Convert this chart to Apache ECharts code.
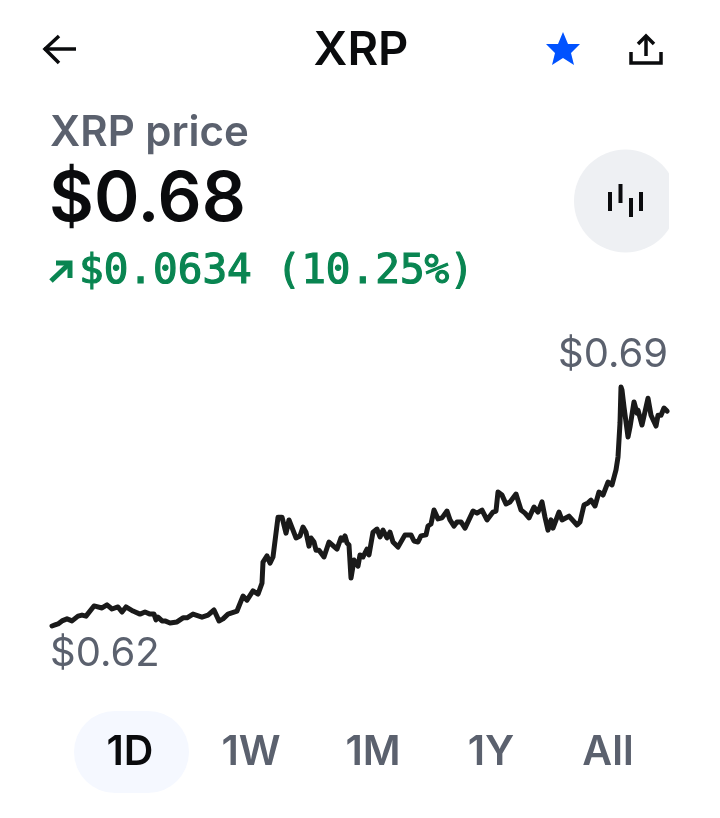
<!DOCTYPE html>
<html>
<head>
<meta charset="utf-8">
<style>
html,body{margin:0;padding:0;background:#fff;}
#chart{width:720px;height:818px;}
</style>
<script src="https://cdn.jsdelivr.net/npm/echarts@6/dist/echarts.min.js"></script>
</head>
<body>
<div id="chart"></div>
<script>
// sample position along the day
var ticks=[1,4,7,9,11,16,21,27,31,35,43,51,56,61,67,71,75,82,89,94,99,103,105,107,111,114,119,126,132,136,142,151,157,163,168,172,177,186,192,196,202,207,211,212,216,219,222,224,227,231,235,238,245,249,252,255,258,260,263,265,268,273,278,286,290,292,294,296,298,300,303,307,309,312,316,318,322,326,329,332,336,339,342,347,354,360,363,367,370,375,377,380,383,387,391,396,399,403,406,410,414,422,426,431,436,442,445,447,451,455,459,465,470,474,478,483,487,491,494,497,500,502,508,511,518,526,529,533,537,540,544,548,552,557,561,565,567,569,570,571,573,577,579,583,586,587,591,597,600,605,607,610,613,616];
var prices=[.6200,.6203,.6206,.6206,.6215,.6221,.6215,.6229,.6232,.6229,.6259,.6253,.6262,.6250,.6256,.6241,.6256,.6244,.6235,.6241,.6235,.6235,.6218,.6226,.6215,.6215,.6209,.6212,.6224,.6224,.6235,.6226,.6232,.6247,.6215,.6221,.6235,.6244,.6288,.6276,.6303,.6294,.6326,.6388,.6406,.6385,.6403,.6403,.6520,.6520,.6473,.6512,.6459,.6465,.6491,.6476,.6435,.6459,.6447,.6423,.6423,.6403,.6447,.6426,.6459,.6453,.6465,.6444,.6438,.6341,.6394,.6376,.6409,.6403,.6426,.6409,.6476,.6485,.6462,.6482,.6459,.6476,.6447,.6432,.6468,.6468,.6450,.6447,.6465,.6468,.6494,.6500,.6541,.6515,.6518,.6538,.6512,.6494,.6506,.6506,.6488,.6538,.6532,.6541,.6512,.6535,.6538,.6594,.6585,.6559,.6565,.6588,.6541,.6532,.6518,.6550,.6535,.6565,.6520,.6482,.6512,.6488,.6535,.6512,.6523,.6497,.6506,.6556,.6562,.6570,.6553,.6594,.6585,.6623,.6615,.6659,.6697,.6797,.6903,.6894,.6844,.6756,.6785,.6859,.6826,.6835,.6791,.6870,.6820,.6788,.6820,.6820,.6841,.6832];
var tabs=['1D','1W','1M','1Y','All'];
var tabX=[130,251,373,491,608];

var grey='#5b616e',ink='#0a0b0d',green='#098551',blue='#0052ff';
var myChart=echarts.init(document.getElementById('chart'),null,{renderer:'canvas'});

function txt(x,y,s,size,weight,color,align,family){
    return {type:'text',x:x,y:y,silent:true,style:{
        text:s,fontSize:size,fontWeight:weight,fill:color,
        fontFamily:family||'Inter',align:align||'left',verticalAlign:'middle'
    }};
}
function stroke(points,color,w){
    return {type:'polyline',silent:true,shape:{points:points},
        style:{stroke:color,lineWidth:w,fill:null,lineCap:'butt',lineJoin:'miter'}};
}

var changeLabel=txt(79,272,'$0.0634 (10.25%)',41,500,green,'left','DejaVu Sans Mono');
changeLabel.style.stroke=green;
changeLabel.style.lineWidth=1.2;

var elements=[
    stroke([[76,49],[44,49]],ink,3.5),
    stroke([[59,36],[45,49],[59,63]],ink,3.5),
    txt(361,51,'XRP',47,600,ink,'center'),
    {type:'polygon',silent:true,shape:{points:[[563,32],[568,44],[580,44],[571,53],[574,65],[563,58],[552,65],[555,53],[546,44],[558,44]]},style:{fill:blue}},
    stroke([[646,56],[646,37]],ink,3.5),
    stroke([[638,44],[646,36],[654,44]],ink,3.5),
    stroke([[631,52],[631,63],[661,63],[661,52]],ink,3.5),
    txt(50,133,'XRP price',42,600,grey),
    txt(49,200,'$0.68',69,600,ink),
    stroke([[51,281],[70,263]],green,5),
    stroke([[56,263],[70,263],[70,278]],green,5),
    changeLabel,
    {type:'circle',silent:true,shape:{cx:625.5,cy:201,r:51.5},style:{fill:'#eef0f3'}},
    {type:'rect',silent:true,shape:{x:669,y:145,width:12,height:112},style:{fill:'#fff'}},
    stroke([[610,192],[610,211]],ink,4),
    stroke([[620.5,184],[620.5,203]],ink,4),
    stroke([[631,198],[631,217]],ink,4),
    stroke([[641,192],[641,211]],ink,4),
    txt(668,355,'$0.69',40,400,grey,'right'),
    txt(50,654,'$0.62',40,400,grey),
    {type:'rect',silent:true,shape:{x:74,y:711,width:115,height:82,r:41},style:{fill:'#f5f8ff'}}
];
tabs.forEach(function(t,i){
    elements.push(txt(tabX[i],753,t,41,600,i===0?ink:grey,'center'));
});

myChart.setOption({
    animation:false,
    backgroundColor:'#fff',
    grid:{left:51,top:388,width:616,height:238},
    xAxis:{type:'value',min:0,max:616,show:false},
    yAxis:{type:'value',min:0.62,max:0.69,show:false},
    graphic:{elements:elements},
    series:[{
        type:'line',
        data:ticks.map(function(t,i){return [t,prices[i]];}),
        showSymbol:false,
        clip:false,
        smooth:false,
        lineStyle:{color:'#1a1a1a',width:5,join:'round',cap:'round'}
    }]
});
</script>
</body>
</html>
